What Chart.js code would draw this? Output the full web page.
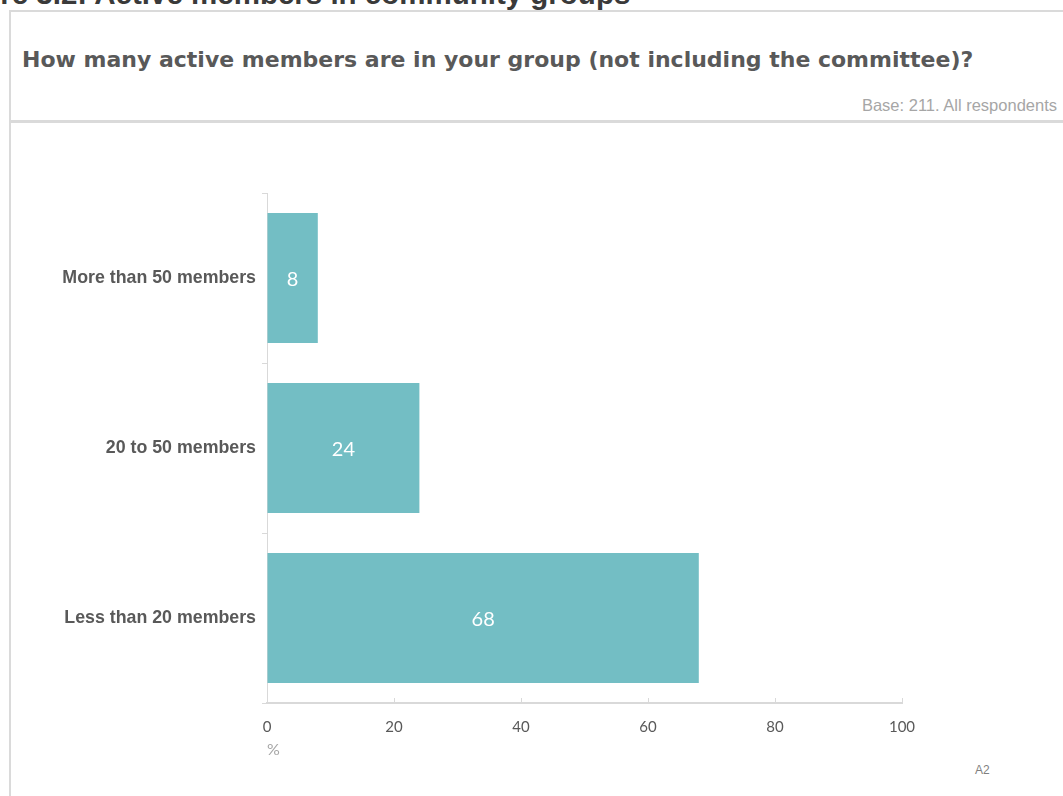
<!DOCTYPE html>
<html>
<head>
<meta charset="utf-8">
<script src="https://cdn.jsdelivr.net/npm/chart.js@4.4.1/dist/chart.umd.min.js"></script>
<style>
  html, body { margin: 0; padding: 0; background: #fff; overflow: hidden; }
  body { width: 1063px; height: 796px; position: relative; }
  .fig-title {
    position: absolute; left: -62px; top: -21px;
    font: bold 29.5px "Liberation Sans", Arial, sans-serif; line-height: 29px;
    color: #3a3a3a; white-space: nowrap;
  }
  .panel {
    position: absolute; left: 9px; top: 10px; width: 1100px; height: 820px;
    border-left: 2px solid #dadada; border-top: 2px solid #dadada;
  }
  .question {
    position: absolute; left: 22px; top: 47px;
    font: bold 22px "DejaVu Sans", Verdana, sans-serif; color: #595959; white-space: nowrap;
  }
  .base {
    position: absolute; right: 6px; top: 96px;
    font: 16.5px "Liberation Sans", Arial, sans-serif; color: #a6a6a6; white-space: nowrap;
  }
  .rule {
    position: absolute; left: 11px; top: 120px; width: 1060px; height: 3px; background: #dadada;
  }
  .code {
    position: absolute; left: 975px; top: 763px;
    font: 12px "Liberation Sans", Arial, sans-serif; color: #7f7f7f;
  }
  #chart { position: absolute; left: 0; top: 0; }
</style>
</head>
<body>
<div class="fig-title">Figure 3.2: Active members in community groups</div>
<div class="panel"></div>
<div class="question">How many active members are in your group (not including the committee)?</div>
<div class="base">Base: 211. All respondents</div>
<div class="rule"></div>
<div class="code">A2</div>
<canvas id="chart" width="1063" height="796"></canvas>
<script>
const categories = ['More than 50 members', '20 to 50 members', 'Less than 20 members'];
const percentages = [8, 24, 68];
const xTicks = [0, 20, 40, 60, 80, 100];

const barColor = '#73bec4';
const axisColor = '#d9d9d9';

// white value labels in the middle of each bar
const barLabels = {
  id: 'barLabels',
  afterDatasetsDraw(chart) {
    const ctx = chart.ctx;
    const meta = chart.getDatasetMeta(0);
    ctx.save();
    ctx.fillStyle = '#ffffff';
    ctx.font = '20px Lato, "Open Sans", sans-serif';
    ctx.textAlign = 'center';
    ctx.textBaseline = 'middle';
    meta.data.forEach((bar, i) => {
      const cx = (bar.base + bar.x) / 2;
      ctx.fillText(String(percentages[i]), cx, bar.y + 2);
    });
    ctx.restore();
  }
};

// short tick marks on the value axis, pointing up into the plot
const innerTicks = {
  id: 'innerTicks',
  afterDraw(chart) {
    const x = chart.scales.x;
    const ctx = chart.ctx;
    ctx.save();
    ctx.strokeStyle = axisColor;
    ctx.lineWidth = 1;
    xTicks.forEach(v => {
      if (v === 0) return;
      const px = Math.round(x.getPixelForValue(v)) + 0.5;
      ctx.beginPath();
      ctx.moveTo(px, x.top);
      ctx.lineTo(px, x.top - 5);
      ctx.stroke();
    });
    ctx.restore();
  }
};

new Chart(document.getElementById('chart'), {
  type: 'bar',
  data: {
    labels: categories,
    datasets: [{
      data: percentages,
      backgroundColor: barColor,
      borderWidth: 0,
      categoryPercentage: 0.765,
      barPercentage: 1.0
    }]
  },
  options: {
    indexAxis: 'y',
    responsive: false,
    animation: false,
    layout: { padding: { top: 193, right: 161, bottom: 37, left: 0 } },
    plugins: { legend: { display: false }, tooltip: { enabled: false } },
    scales: {
      x: {
        min: 0, max: 100,
        afterBuildTicks(scale) { scale.ticks = xTicks.map(v => ({ value: v })); },
        afterFit(scale) { scale.height = 56; },
        grid: { display: true, drawOnChartArea: false, drawTicks: false },
        border: { display: true, color: axisColor, width: 2 },
        ticks: {
          padding: 15,
          color: '#595959',
          font: { family: 'Lato, "Open Sans", sans-serif', size: 15 }
        },
        title: {
          display: true, text: '%', align: 'start',
          color: '#a6a6a6',
          font: { family: 'Lato, "Open Sans", sans-serif', size: 16 },
          padding: { top: 0, bottom: 0 }
        }
      },
      y: {
        afterFit(scale) { scale.width = 267; },
        grid: { offset: true, drawOnChartArea: false, tickLength: 5, color: axisColor },
        border: { display: true, color: axisColor, width: 1 },
        ticks: {
          padding: 6,
          color: '#595959',
          font: { family: '"Liberation Sans", Arial, sans-serif', size: 17.8, weight: 'bold' }
        }
      }
    }
  },
  plugins: [barLabels, innerTicks]
});
</script>
</body>
</html>
